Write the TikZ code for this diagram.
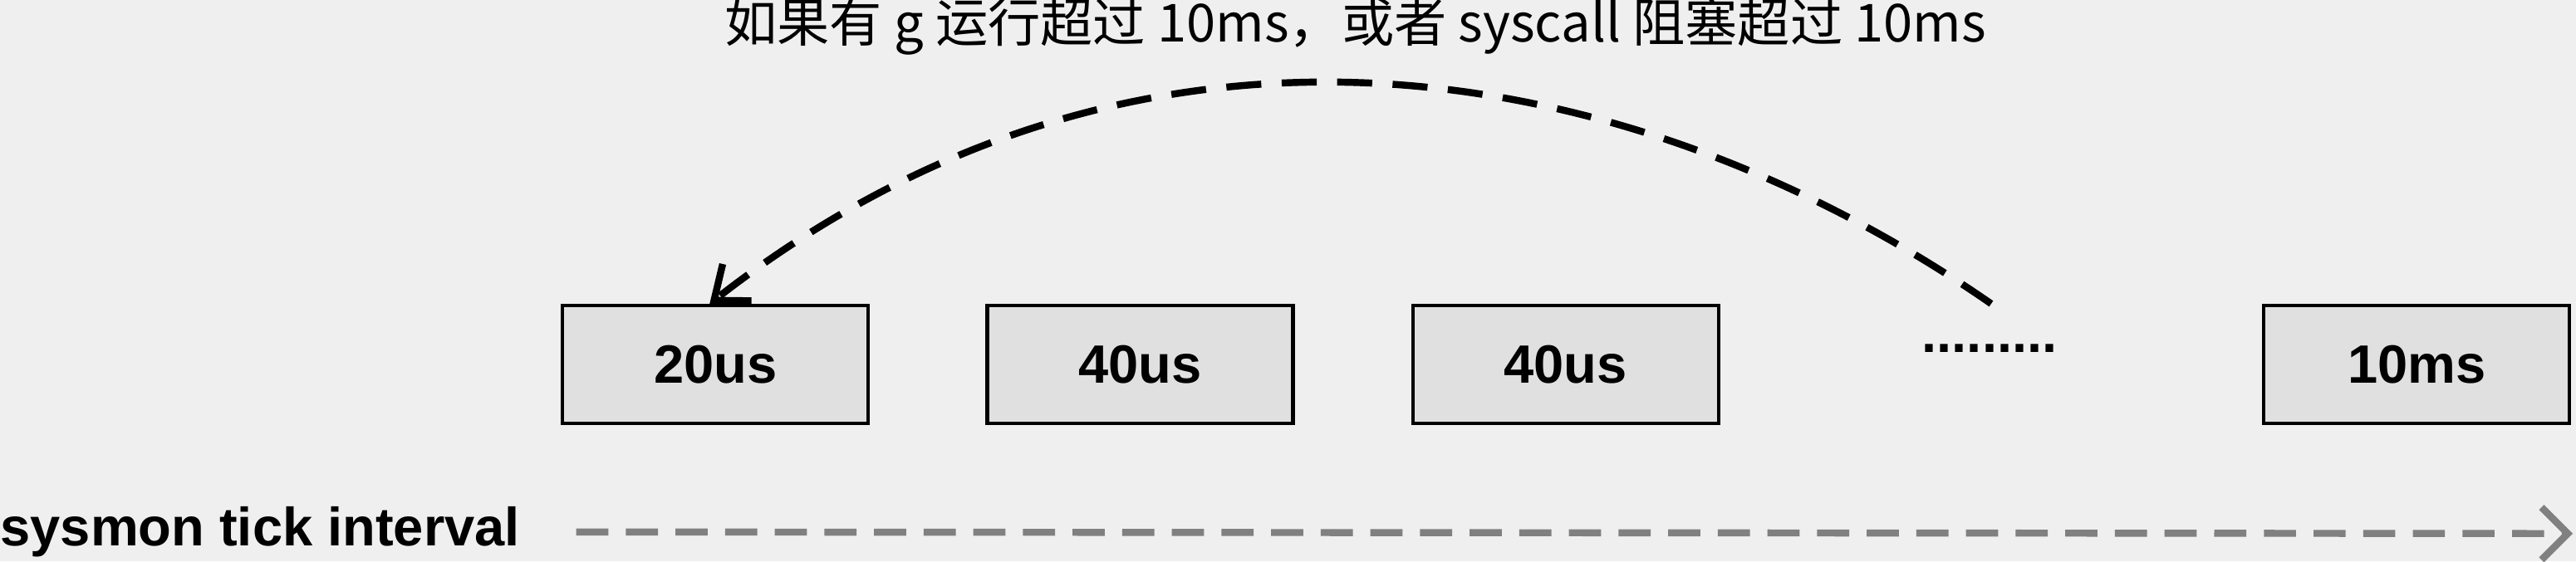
\documentclass[tikz,border=0pt]{standalone}
\usepackage{fontspec}
\setmainfont{Liberation Sans}
\newfontfamily\cjk{Noto Sans CJK SC}
\usetikzlibrary{arrows.meta}
\definecolor{bgcol}{HTML}{EFEFEF}
\definecolor{boxcol}{HTML}{E0E0E0}
\begin{document}
\begin{tikzpicture}[x=0.01978cm,y=-0.01978cm]
\tikzstyle{tick} = [draw=black,fill=boxcol,line width=1.2pt,minimum width=3.68cm,minimum height=1.42cm,font=\fontsize{18.5}{22}\selectfont\bfseries]
\tikzstyle{jump} = [line width=2.4pt,dash pattern=on 12pt off 7pt,-{Straight Barb[length=10pt,width=16pt]}]
\fill[bgcol] (0,0) rectangle (1568,342);
\useasboundingbox (0,0) rectangle (1568,342);
\node[font=\cjk\fontsize{18}{22}\selectfont] (title) at (825,16) {如果有 g 运行超过 10ms，或者 syscall 阻塞超过 10ms};
\node[tick] (t1) at (435.5,222) {20us};
\node[tick] (t2) at (694,222) {40us};
\node[tick] (t3) at (953,222) {40us};
\node[font=\fontsize{18.5}{22}\selectfont\bfseries] (dots) at (1211,212) {.........};
\node[tick] (t4) at (1471,222) {10ms};
\coordinate (from) at (1212,185);
\draw[jump] (from) .. controls (1000,38) and (700,-24) .. ([xshift=-2]t1.north);
\node[anchor=west,font=\fontsize{18.5}{22}\selectfont\bfseries] (axis) at (-6,324) {sysmon tick interval};
\coordinate (tend) at (1566,325);
\draw[gray,line width=2.4pt,dash pattern=on 11pt off 6pt,-{Straight Barb[length=9pt,width=18pt]}] (axis.east)++(28,0) -- (tend);
\end{tikzpicture}
\end{document}
